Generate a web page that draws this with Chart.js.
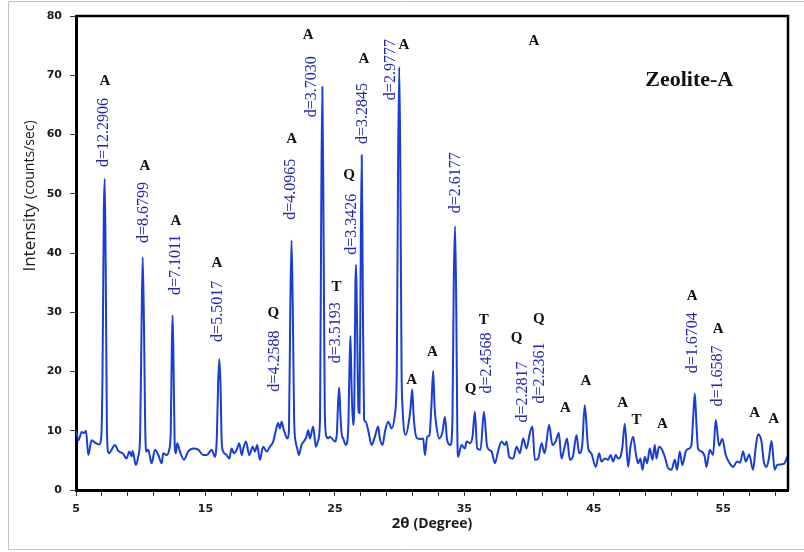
<!DOCTYPE html>
<html>
<head>
<meta charset="utf-8">
<title>Zeolite-A XRD</title>
<script src="https://cdn.jsdelivr.net/npm/chart.js@4.4.1/dist/chart.umd.min.js"></script>
<style>
  body { margin: 0; background: #fff; }
  canvas { display: block; }
</style>
</head>
<body>
<canvas id="grafico-xrd" width="804" height="552"></canvas>
<script>
// 2theta (degree) and intensity (counts/sec)
const twoTheta = [
  5.0, 5.2, 5.44, 5.6, 5.77, 5.95, 6.2, 6.47, 6.8, 6.95, 7.05, 7.15, 7.22, 7.3, 7.38, 7.47, 7.57, 7.75,
  8.0, 8.27, 8.65, 8.9, 9.12, 9.3, 9.37, 9.63, 9.8, 9.95, 10.05, 10.15, 10.25, 10.35, 10.45, 10.58,
  10.84, 11.1, 11.36, 11.62, 11.74, 12.0, 12.2, 12.32, 12.4, 12.46, 12.53, 12.62, 12.72, 12.82, 13.03,
  13.34, 13.67, 14.06, 14.44, 14.83, 15.1, 15.48, 15.73, 15.88, 15.98, 16.07, 16.16, 16.26, 16.37,
  16.63, 16.84, 17.02, 17.2, 17.41, 17.61, 17.8, 17.92, 18.13, 18.38, 18.64, 18.82, 19.0, 19.2, 19.46,
  19.73, 19.98, 20.24, 20.44, 20.62, 20.75, 20.88, 21.06, 21.32, 21.45, 21.55, 21.65, 21.75, 21.85,
  21.98, 22.09, 22.22, 22.42, 22.6, 22.8, 22.94, 23.07, 23.32, 23.53, 23.71, 23.85, 23.95, 24.03,
  24.12, 24.22, 24.35, 24.48, 24.61, 25.0, 25.15, 25.25, 25.33, 25.42, 25.52, 25.64, 25.85, 26.03,
  26.12, 26.2, 26.28, 26.4, 26.5, 26.58, 26.63, 26.7, 26.82, 26.9, 26.98, 27.07, 27.15, 27.25, 27.38,
  27.57, 27.83, 28.09, 28.34, 28.47, 28.68, 28.86, 29.12, 29.38, 29.63, 29.78, 29.88, 29.97, 30.05,
  30.15, 30.22, 30.48, 30.73, 30.85, 30.97, 31.07, 31.18, 31.36, 31.61, 31.82, 31.95, 32.13, 32.3,
  32.45, 32.59, 32.7, 32.85, 33.05, 33.29, 33.5, 33.67, 33.93, 34.08, 34.18, 34.28, 34.37, 34.46,
  34.52, 34.78, 35.04, 35.17, 35.43, 35.63, 35.81, 35.99, 36.25, 36.51, 36.76, 37.1, 37.36, 37.6,
  37.87, 38.13, 38.26, 38.46, 38.77, 39.03, 39.29, 39.54, 39.8, 40.06, 40.26, 40.44, 40.7, 40.96,
  41.2, 41.55, 41.8, 42.05, 42.3, 42.5, 42.7, 42.93, 43.15, 43.4, 43.66, 43.87, 44.1, 44.3, 44.57,
  44.8, 45.15, 45.41, 45.59, 45.85, 46.1, 46.3, 46.49, 46.7, 46.88, 47.05, 47.21, 47.39, 47.65, 47.83,
  48.04, 48.24, 48.42, 48.6, 48.76, 48.94, 49.12, 49.32, 49.53, 49.71, 49.84, 50.04, 50.22, 50.48,
  50.74, 51.0, 51.26, 51.43, 51.64, 51.84, 52.1, 52.36, 52.54, 52.67, 52.8, 52.93, 53.05, 53.31,
  53.57, 53.7, 53.96, 54.21, 54.42, 54.67, 54.93, 55.19, 55.5, 55.76, 56.07, 56.3, 56.53, 56.74,
  57.0, 57.3, 57.51, 57.69, 57.95, 58.13, 58.34, 58.52, 58.73, 58.97, 59.15, 59.4, 59.67, 59.93, 60.0
];
const intensity = [
  10.0, 8.4, 9.8, 9.6, 10.0, 5.9, 8.4, 8.0, 7.7, 8.8, 20, 47, 52.5, 36, 12, 6.5, 6.2, 6.8,
  7.6, 6.6, 6.1, 5.3, 6.5, 5.7, 6.6, 4.2, 5.6, 9, 25, 39.3, 28, 10, 6.5, 6.8,
  4.5, 6.8, 5.9, 4.5, 6.2, 5.9, 6.8, 10, 24, 29.5, 22, 8, 6.2, 7.9, 6.5,
  5.1, 6.5, 7.0, 6.8, 5.9, 5.9, 6.8, 5.6, 9, 18, 22.1, 18, 8, 6.5,
  5.9, 5.3, 7.0, 6.2, 6.8, 7.9, 5.9, 7.0, 8.2, 5.9, 7.3, 6.5, 7.6, 5.1, 7.3,
  6.5, 7.3, 8.2, 10.1, 11.3, 10.4, 11.5, 10.1, 8.7, 10, 30, 42.1, 30, 12,
  8, 7.0, 5.9, 7.6, 8.2, 9.0, 10.1, 8.7, 10.7, 7.3, 8.4, 12, 50, 68,
  45, 13, 9, 8.7, 9.0, 8.2, 9.5, 15, 17.3, 13, 9.5, 8.7, 7.6, 10.4,
  20, 26, 18, 11, 15, 34, 38, 30, 13.5, 13, 35, 56.5, 35, 12, 11.5,
  10.1, 7.6, 9.0, 10.7, 8.7, 7.6, 9.8, 11.5, 10.4, 12.7, 20, 55, 71.4, 55,
  20, 14.1, 9.3, 11.8, 14, 17.0, 13, 10.1, 8.7, 8.6, 8.7, 5.9, 9.0, 9.2,
  14, 20.1, 14, 10.7, 8.7, 9.6, 12.3, 8.4, 7.6, 12, 35, 44.5, 32, 9,
  5.6, 7.6, 7.0, 8.2, 7.9, 9.0, 13.2, 7.0, 6.8, 13.2, 7.3, 6.5, 4.5, 6.5,
  8.2, 7.6, 8.2, 5.6, 5.3, 7.3, 6.2, 8.7, 7.0, 9.6, 10.7, 5.1, 5.3, 7.9,
  6.2, 11.0, 7.6, 8.2, 9.6, 5.3, 6.8, 8.7, 5.1, 5.8, 9.3, 6.2, 7.5, 14.3, 7.0,
  6.2, 3.9, 6.2, 4.8, 5.3, 5.1, 5.9, 4.8, 5.9, 5.3, 5.6, 7.3, 11.2, 3.9, 7.3,
  9.0, 6.2, 4.5, 5.3, 3.4, 5.6, 4.5, 7.0, 5.1, 7.6, 5.3, 7.3, 7.0, 5.6,
  3.7, 3.4, 5.1, 3.4, 6.5, 4.2, 6.5, 7.0, 7.6, 12, 16.3, 11, 7.0, 6.5,
  5.6, 3.9, 6.8, 5.9, 11.8, 7.5, 8.6, 5.9, 4.5, 3.9, 4.8, 4.6, 6.5, 4.8,
  6.0, 3.4, 7.3, 9.4, 8.2, 4.8, 3.9, 5.3, 8.3, 3.4, 4.2, 4.3, 4.4, 5.5, 5.9
];

// d-spacing labels (vertical, blue)
const dLabelX = [7.11, 10.2, 12.72, 15.99, 20.37, 21.6, 23.2, 25.08, 26.29, 27.19, 29.3, 34.34, 36.71, 39.54, 40.83, 52.67, 54.6];
const dLabelY = [54.5, 41.7, 32.9, 25.0, 16.6, 45.6, 62.9, 21.4, 39.7, 58.4, 65.8, 46.7, 16.3, 11.4, 14.6, 19.7, 14.1];
const dLabels = ["d=12.2906", "d=8.6799", "d=7.1011", "d=5.5017", "d=4.2588", "d=4.0965", "d=3.7030", "d=3.5193",
  "d=3.3426", "d=3.2845", "d=2.9777", "d=2.6177", "d=2.4568", "d=2.2817", "d=2.2361", "d=1.6704", "d=1.6587"];

// phase letters (A zeolite, Q quartz, T)
const phaseX = [7.24, 10.33, 12.72, 15.89, 20.24, 21.66, 22.94, 25.13, 26.1, 27.24, 30.33, 40.37, 30.92, 32.54,
  35.48, 36.5, 39.03, 40.75, 42.81, 44.38, 47.22, 48.3, 50.3, 52.59, 54.6, 57.43, 58.9];
const phaseY = [69.0, 54.6, 45.3, 38.3, 29.8, 59.2, 76.8, 34.3, 53.2, 72.7, 75.1, 75.7, 18.6, 23.2,
  17.0, 28.7, 25.6, 28.8, 13.8, 18.3, 14.7, 11.8, 11.1, 32.7, 27.1, 12.9, 11.9];
const phaseLetters = ["A", "A", "A", "A", "Q", "A", "A", "T", "Q", "A", "A", "A", "A", "A",
  "Q", "T", "Q", "Q", "A", "A", "A", "T", "A", "A", "A", "A", "A"];

const xTicks = [5, 7, 9, 11, 13, 15, 17, 19, 21, 23, 25, 27, 29, 31, 33, 35, 37, 39, 41, 43, 45, 47, 49, 51, 53, 55, 57, 59];
const xTickLabels = [5, 15, 25, 35, 45, 55];

const anotacoes = {
  id: "anotacoes",
  beforeDraw(chart) {
    const ctx = chart.ctx;
    ctx.save();
    ctx.fillStyle = "#fff";
    ctx.fillRect(0, 0, chart.width, chart.height);
    // moldura cinza da figura
    ctx.strokeStyle = "#c4c4c4";
    ctx.lineWidth = 1;
    ctx.beginPath();
    ctx.moveTo(8.5, 549.5);
    ctx.lineTo(8.5, 1.5);
    ctx.lineTo(804, 1.5);
    ctx.moveTo(8.5, 549.5);
    ctx.lineTo(804, 549.5);
    ctx.stroke();
    ctx.restore();
  },
  afterDraw(chart) {
    const ctx = chart.ctx;
    const x = chart.scales.x;
    const y = chart.scales.y;
    const area = chart.chartArea;
    ctx.save();

    // top and right frame
    ctx.strokeStyle = "#000";
    ctx.lineWidth = 2.5;
    ctx.beginPath();
    ctx.moveTo(area.left, area.top);
    ctx.lineTo(area.right, area.top);
    ctx.lineTo(area.right, area.bottom);
    ctx.stroke();

    ctx.fillStyle = "#2626b4";
    ctx.font = "16px 'Liberation Serif'";
    ctx.textAlign = "left";
    ctx.textBaseline = "middle";
    for (let i = 0; i < dLabels.length; i++) {
      ctx.save();
      ctx.translate(x.getPixelForValue(dLabelX[i]), y.getPixelForValue(dLabelY[i]));
      ctx.rotate(-Math.PI / 2);
      ctx.fillText(dLabels[i], 0, 0);
      ctx.restore();
    }

    ctx.fillStyle = "#111";
    ctx.font = "bold 15px 'Liberation Serif'";
    ctx.textAlign = "center";
    for (let i = 0; i < phaseLetters.length; i++) {
      ctx.fillText(phaseLetters[i], x.getPixelForValue(phaseX[i]), y.getPixelForValue(phaseY[i]));
    }

    ctx.font = "bold 22px 'Liberation Serif'";
    ctx.fillText("Zeolite-A", x.getPixelForValue(52.37), y.getPixelForValue(69.2));

    // axis titles, two font sizes each
    ctx.fillStyle = "#1a1a1a";
    ctx.textAlign = "left";
    ctx.font = "17px 'Open Sans'";
    const w1 = ctx.measureText("Intensity ").width;
    ctx.font = "14px 'Open Sans'";
    const w2 = ctx.measureText("(counts/sec)").width;
    ctx.save();
    ctx.translate(30, 196 + (w1 + w2) / 2);
    ctx.rotate(-Math.PI / 2);
    ctx.font = "17px 'Open Sans'";
    ctx.fillText("Intensity ", 0, 0);
    ctx.font = "14px 'Open Sans'";
    ctx.fillText("(counts/sec)", w1, 0);
    ctx.restore();

    ctx.font = "bold 15px 'Open Sans'";
    const w3 = ctx.measureText("2θ ").width;
    ctx.font = "bold 14px 'Open Sans'";
    const w4 = ctx.measureText("(Degree)").width;
    const xc = (area.left + area.right) / 2 - (w3 + w4) / 2;
    ctx.font = "bold 15px 'Open Sans'";
    ctx.fillText("2θ ", xc, 524);
    ctx.font = "bold 14px 'Open Sans'";
    ctx.fillText("(Degree)", xc + w3, 524);

    ctx.restore();
  }
};

const pontos = twoTheta.map((t, i) => ({ x: t, y: intensity[i] }));

new Chart("grafico-xrd", {
  type: "line",
  data: {
    datasets: [{
      label: "Zeolite-A",
      data: pontos,
      borderColor: "#1a3dd6",
      borderWidth: 2,
      pointRadius: 0,
      fill: false,
      cubicInterpolationMode: "monotone"
    }]
  },
  options: {
    responsive: false,
    animation: false,
    layout: { padding: { top: 16, right: 16, left: 0, bottom: 0 } },
    plugins: {
      legend: { display: false },
      tooltip: { enabled: false }
    },
    scales: {
      x: {
        type: "linear",
        min: 5,
        max: 60,
        afterFit: (s) => { s.height = 62; },
        afterBuildTicks: (s) => { s.ticks = xTicks.map((v) => ({ value: v })); },
        grid: { drawOnChartArea: false, drawTicks: true, tickLength: 6, color: "#333" },
        border: { display: true, color: "#000", width: 3 },
        ticks: {
          autoSkip: false,
          maxRotation: 0,
          padding: 7,
          color: "#1a1a1a",
          font: { family: "'DejaVu Sans'", size: 11, weight: "bold" },
          callback: (v) => xTickLabels.includes(v) ? String(v) : ""
        }
      },
      y: {
        min: 0,
        max: 80,
        afterFit: (s) => { s.width = 76; },
        grid: { drawOnChartArea: false, drawTicks: true, tickLength: 6, color: "#333" },
        border: { display: true, color: "#000", width: 3 },
        ticks: {
          stepSize: 10,
          padding: 8,
          color: "#1a1a1a",
          font: { family: "'DejaVu Sans'", size: 11, weight: "bold" }
        }
      }
    }
  },
  plugins: [anotacoes]
});
</script>
</body>
</html>
